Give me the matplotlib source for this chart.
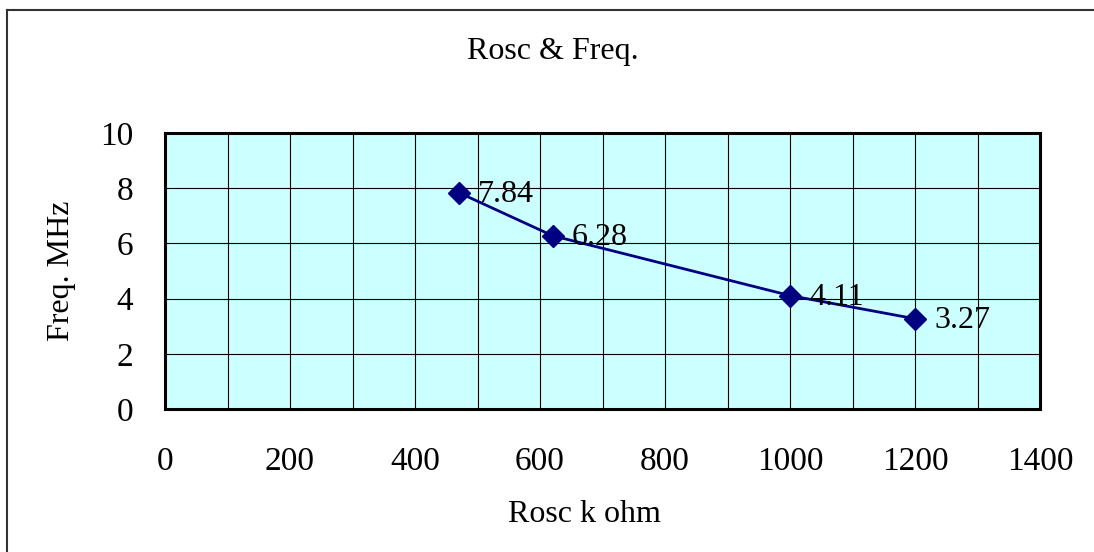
import matplotlib
matplotlib.use('Agg')
import matplotlib.pyplot as plt
from matplotlib.lines import Line2D

# data
rosc = [470, 620, 1000, 1200]          # k ohm
freq = [7.84, 6.28, 4.11, 3.27]        # MHz
point_labels = ['7.84', '6.28', '4.11', '3.27']
x_ticks = [0, 200, 400, 600, 800, 1000, 1200, 1400]
y_ticks = [0, 2, 4, 6, 8, 10]

plt.rcParams['font.family'] = ['Liberation Serif', 'DejaVu Serif']

fig = plt.figure(figsize=(10.94, 5.52), dpi=100)
ax = fig.add_axes([165 / 1094, 1 - 409 / 552, 875 / 1094, 276 / 552])
ax.set_facecolor('#ccffff')

# grid: vertical every 100, horizontal every 2
ax.set_xlim(0, 1400)
ax.set_ylim(0, 10)
ax.set_xticks(x_ticks)
ax.set_xticks(range(0, 1401, 100), minor=True)
ax.set_yticks(y_ticks)
ax.grid(which='both', color='black', linewidth=0.8)
ax.set_axisbelow(True)
ax.tick_params(which='both', length=0, labelsize=24)
ax.tick_params(axis='x', pad=27)
ax.tick_params(axis='y', pad=23)
for sp in ax.spines.values():
    sp.set_linewidth(2.2)
    sp.set_color('black')

ax.plot(rosc, freq, color='#000080', linewidth=2.0, marker='D',
        markersize=11, markerfacecolor='#000080', markeredgecolor='#000080',
        zorder=3)

for x, y, lab in zip(rosc, freq, point_labels):
    ax.annotate(lab, (x, y), xytext=(14, -1.5), textcoords='offset points',
                ha='left', va='center', fontsize=23, zorder=4)

fig.text(553 / 1094, 1 - 52 / 552, 'Rosc & Freq.', ha='center', va='center', fontsize=23)
fig.text(584 / 1094, 1 - 515 / 552, 'Rosc k ohm', ha='center', va='center', fontsize=23)
fig.text(62 / 1094, 1 - 271 / 552, 'Freq. MHz', ha='center', va='center',
         rotation=90, fontsize=23)

# outer chart border (left and top edges visible)
fig.add_artist(Line2D([7 / 1094, 7 / 1094], [0, 1 - 10 / 552],
                      transform=fig.transFigure, color='#333333', linewidth=1.5))
fig.add_artist(Line2D([7 / 1094, 1], [1 - 10 / 552, 1 - 10 / 552],
                      transform=fig.transFigure, color='#333333', linewidth=1.5))

fig.savefig('out.png', dpi=100)
